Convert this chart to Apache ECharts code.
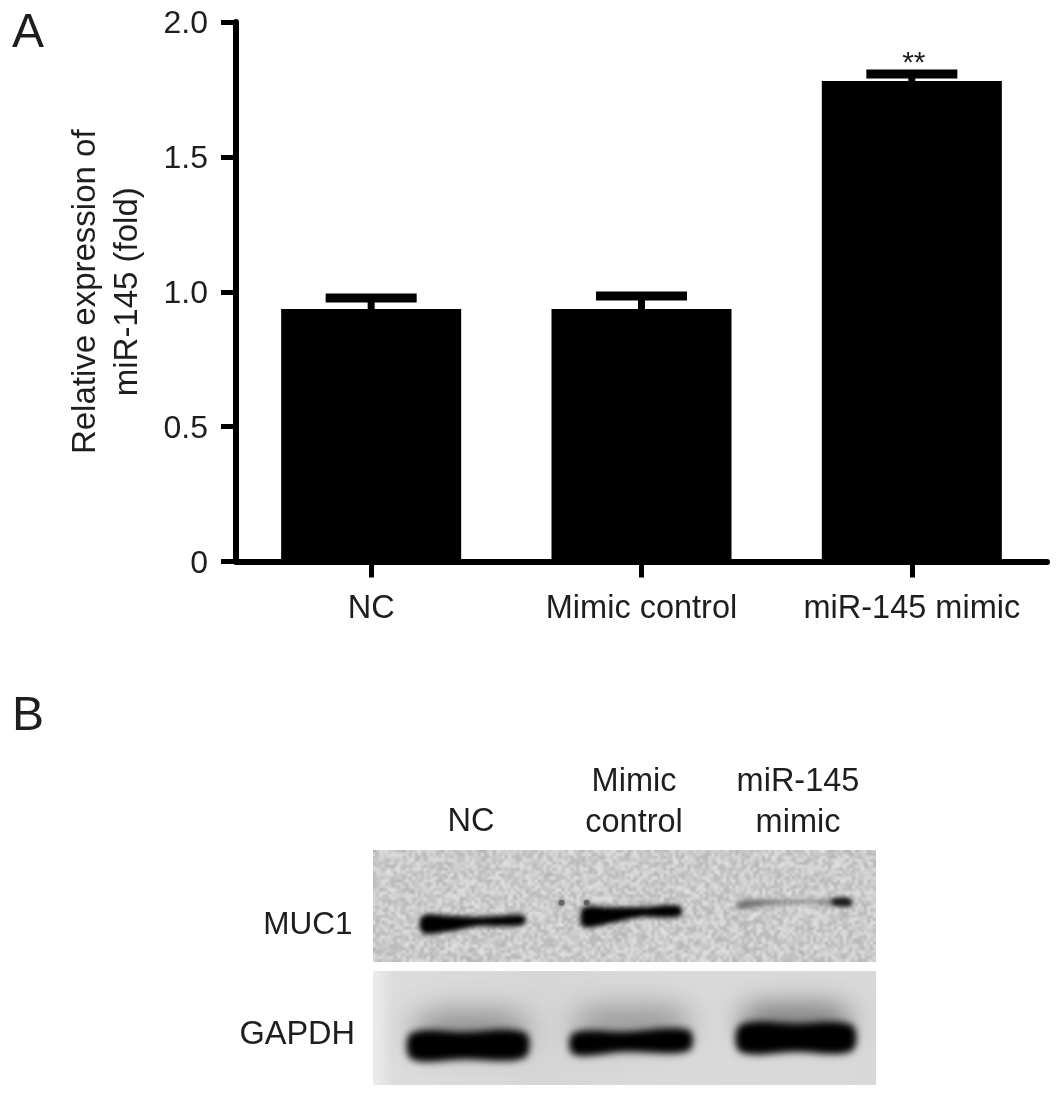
<!DOCTYPE html>
<html><head><meta charset="utf-8">
<style>html,body{margin:0;padding:0;background:#fff}#c{width:1063px;height:1097px}</style>
<script src="https://cdn.jsdelivr.net/npm/echarts@6/dist/echarts.min.js"></script></head>
<body><div id="c"></div>
<script>
const categories = ['NC', 'Mimic control', 'miR-145 mimic'];
const means = [0.936, 0.936, 1.781];
const errors = [0.041, 0.048, 0.026];
const significance = ['', '', '**'];
const yTicks = [0, 0.5, 1, 1.5, 2];
const laneLabels = ['NC', 'Mimic\ncontrol', 'miR-145\nmimic'];
const proteins = ['MUC1', 'GAPDH'];
// blot bands, in percent of the blot area: knots of [x, y, thickness]
const muc1NC = [[9.8,31.6,7.0],[15.3,31.3,6.6],[20.9,30.4,3.8],[25.2,30.2,4.4],[30,29.8,3.6]];
const muc1Mimic = [[41.8,28.6,8.0],[47.1,27.8,6.8],[53.1,26.4,4.2],[61,26.0,4.4]];
const muc1MiRFaint = [[72.6,23.6,2.8],[76,22.7,2.8],[81,22.0,1.5],[89,22.0,1.5],[95.2,22.4,3.2]];
const muc1MiRSpot = [[91.5,22,2.4],[94.8,22.2,2.4]];
const gapdhNC = [[7.6,83.4,11],[18,83.2,11.6],[30.2,83,10.6]];
const gapdhMimic = [[39.8,82.4,9],[50,81.6,8.6],[62.8,81,8.8]];
const gapdhMiR = [[73,80.2,11.4],[84,79.8,12],[95.2,80,11]];
const bands = [
  {knots: muc1MiRFaint, grey: '#6e6e6e', blur: 5},
  {knots: muc1MiRSpot, grey: '#181818', blur: 4},
  {knots: muc1NC, grey: '#000000', blur: 5},
  {knots: muc1Mimic, grey: '#000000', blur: 5},
  {knots: gapdhNC, grey: '#000000', blur: 7},
  {knots: gapdhMimic, grey: '#000000', blur: 7},
  {knots: gapdhMiR, grey: '#000000', blur: 7}
];
const halos = [
  {knots: [[9,77,8],[18,76,11],[30,77,8]], grey: 'rgba(70,70,70,0.7)', blur: 32},
  {knots: [[41,75,8],[50,74,10],[62,74,8]], grey: 'rgba(70,70,70,0.65)', blur: 32},
  {knots: [[74,73,9],[84,72,11],[94,73,9]], grey: 'rgba(60,60,60,0.7)', blur: 28}
];
const specks = [[37.5,22.4],[42.5,22.4]];

function mottled(w, h, base, amp, cell) {
  const small = document.createElement('canvas');
  const sw = Math.ceil(w / cell), sh = Math.ceil(h / cell); small.width = sw; small.height = sh;
  const sc = small.getContext('2d'), im = sc.createImageData(sw, sh);
  for (let y = 0; y < sh; y++) for (let x = 0; x < sw; x++) {
    const s = Math.sin(x * 127.1 + y * 311.7) * 43758.5453;
    const v = base + (s - Math.floor(s) - 0.5) * amp, i = (y * sw + x) * 4;
    im.data[i] = im.data[i + 1] = im.data[i + 2] = v; im.data[i + 3] = 255;
  }
  sc.putImageData(im, 0, 0);
  const cv = document.createElement('canvas'); cv.width = w; cv.height = h;
  const c = cv.getContext('2d'); c.imageSmoothingEnabled = true; c.imageSmoothingQuality = 'high';
  c.drawImage(small, 0, 0, w, h);
  return cv;
}

function bandPolygon(api, knots) {
  const up = knots.map(k => api.coord([k[0], k[1] - k[2] / 2]));
  const down = knots.slice().reverse().map(k => api.coord([k[0], k[1] + k[2] / 2]));
  return up.concat(down);
}
// each band is painted only by its blurred shadow, so its edges are soft like a film exposure
const OFFSET = 3000;
function renderBand(list) {
  return function (params, api) {
    const b = list[params.dataIndex];
    return {type: 'polygon', x: -OFFSET, shape: {points: bandPolygon(api, b.knots), smooth: 0.35},
      style: {fill: '#000', shadowBlur: b.blur, shadowColor: b.grey, shadowOffsetX: OFFSET}};
  };
}
const font = '"Liberation Sans", Arial, sans-serif';
const ink = '#1e1e1e';
const chart = echarts.init(document.getElementById('c'), null, {renderer: 'canvas'});
const txt = (x, y, text, size, align, lh) => ({type: 'text', x, y, z: 10,
  style: {text, font: size + 'px ' + font, fill: ink, align: align || 'left', verticalAlign: 'middle', lineHeight: lh || size}});
chart.setOption({
  animation: false,
  backgroundColor: '#fff',
  grid: [
    {left: 236, top: 22, width: 811, height: 539.5},
    {left: 373, top: 850, width: 503, height: 235, show: false}
  ],
  xAxis: [
    {type: 'category', gridIndex: 0, data: categories,
     axisLine: {lineStyle: {color: '#000', width: 6}},
     axisTick: {show: true, alignWithLabel: true, interval: 0, length: 16, lineStyle: {color: '#000', width: 5}},
     axisLabel: {color: ink, fontFamily: font, fontSize: 32.5, margin: 31, interval: 0, hideOverlap: false}},
    {type: 'value', gridIndex: 1, min: 0, max: 100, show: false}
  ],
  yAxis: [
    {type: 'value', gridIndex: 0, min: 0, max: 2, interval: 0.5,
     name: 'Relative expression of\nmiR-145 (fold)', nameLocation: 'middle', nameGap: 87, nameRotate: 90,
     nameTextStyle: {color: ink, fontFamily: font, fontSize: 33, lineHeight: 42},
     splitLine: {show: false},
     axisLine: {show: true, lineStyle: {color: '#000', width: 6}},
     axisTick: {show: true, length: 15, lineStyle: {color: '#000', width: 5}},
     axisLabel: {margin: 28,
       rich: {t: {color: ink, fontFamily: font, fontSize: 32, padding: [5, 0, 0, 0]}},
       formatter: v => yTicks.includes(v) ? '{t|' + (v === 0 ? '0' : v.toFixed(1)) + '}' : ''}},
    {type: 'value', gridIndex: 1, min: 0, max: 100, inverse: true, show: false}
  ],
  graphic: [
    txt(12, 33.5, 'A', 48), txt(12, 717, 'B', 48),
    {type: 'image', x: 373, y: 850, z: -1, style: {image: mottled(503, 112, 203, 42, 3), x: 0, y: 0, width: 503, height: 112}},
    {type: 'rect', x: 373, y: 971, z: -1, shape: {x: 0, y: 0, width: 503, height: 114},
      style: {fill: new echarts.graphic.LinearGradient(0, 0, 1, 0, [
        {offset: 0, color: '#ececec'}, {offset: 0.04, color: '#dcdcdc'}, {offset: 0.34, color: '#d6d6d6'},
        {offset: 0.62, color: '#dadada'}, {offset: 1, color: '#d8d8d8'}])}},
    txt(471, 822, laneLabels[0], 32.5, 'center'),
    txt(634, 802.5, laneLabels[1], 32.5, 'center', 41),
    txt(798, 802.5, laneLabels[2], 32.5, 'center', 41),
    txt(352.5, 925, proteins[0], 31.5, 'right'),
    txt(355, 1035, proteins[1], 32.5, 'right')
  ],
  series: [
    {type: 'bar', xAxisIndex: 0, yAxisIndex: 0, data: means, barWidth: 180,
     itemStyle: {color: '#000'}},
    {type: 'custom', xAxisIndex: 0, yAxisIndex: 0, z: 3, clip: false,
     data: categories.map((c, i) => [i, means[i] + errors[i]]),
     encode: {x: 0, y: 1},
     renderItem(params, api) {
       const i = api.value(0), top = api.coord([i, means[i] + errors[i]]), base = api.coord([i, means[i]]);
       const capW = 91, capH = 9, stemW = 7;
       return {type: 'group', children: [
         {type: 'rect', shape: {x: top[0] - stemW / 2, y: top[1], width: stemW, height: base[1] - top[1]}, style: {fill: '#000'}},
         {type: 'rect', shape: {x: top[0] - capW / 2, y: top[1] - capH / 2, width: capW, height: capH}, style: {fill: '#000'}},
         {type: 'text', style: {x: top[0] + 2, y: top[1] + 5, text: significance[i], fill: ink,
           font: '30px ' + font, align: 'center', verticalAlign: 'bottom'}}
       ]};
     }},
    {type: 'custom', xAxisIndex: 1, yAxisIndex: 1, z: 1, data: halos.map((b, i) => [i, 0]), renderItem: renderBand(halos), silent: true},
    {type: 'custom', xAxisIndex: 1, yAxisIndex: 1, z: 2, data: bands.map((b, i) => [i, 0]), renderItem: renderBand(bands), silent: true},
    {type: 'scatter', xAxisIndex: 1, yAxisIndex: 1, z: 2, silent: true, data: specks,
     symbolSize: 6, itemStyle: {color: '#555', shadowBlur: 4, shadowColor: '#555'}}
  ]
});
</script></body></html>
